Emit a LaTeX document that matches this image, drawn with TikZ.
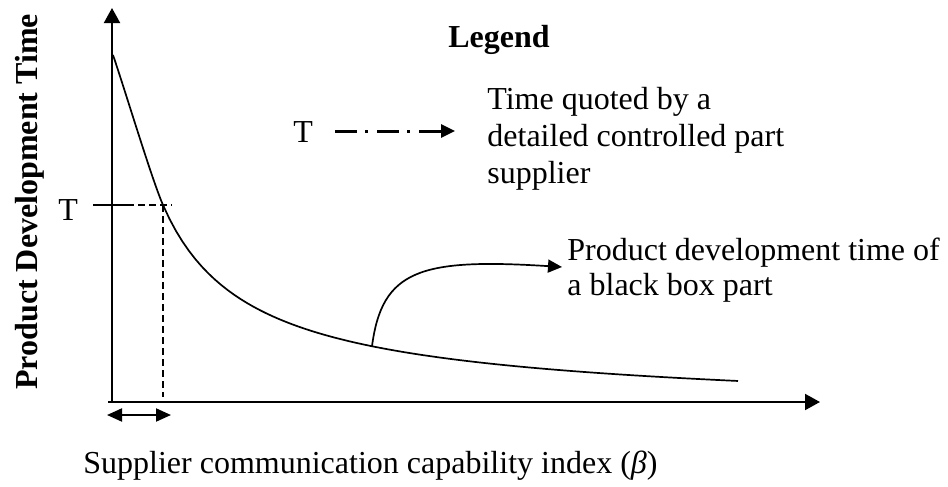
\documentclass[tikz,border=0pt]{standalone}
\usepackage{fontspec}
\setmainfont{Liberation Serif}
\usetikzlibrary{arrows.meta}
\begin{document}
\begin{tikzpicture}[x=0.5pt,y=-0.5pt,
  txt/.style={font=\fontsize{16}{18}\selectfont, inner sep=0pt, anchor=base west},
  btxt/.style={txt, font=\fontsize{16}{18}\selectfont\bfseries},
  axis/.style={line width=1pt, -{Triangle[length=7.5pt,width=8pt]}},
  curve/.style={line width=0.85pt},
  guide/.style={line width=0.65pt, dash pattern=on 3.5pt off 2pt},
  tip/.style={-{Triangle[length=7pt,width=6.5pt]}}
]
\useasboundingbox (0,0) rectangle (948,487);
% coordinates
\coordinate (O) at (112,402);
\coordinate (Ytop) at (112,8);
\coordinate (Xl) at (108,402);
\coordinate (Xr) at (820,402);
\coordinate (Tl) at (93,205);
\coordinate (Tm) at (127,205);
\coordinate (Tr) at (172,205);
\coordinate (Vt) at (163,205);
\coordinate (Vb) at (163,397);
\coordinate (Dl) at (107,415);
\coordinate (Dr) at (171,415);
\coordinate (Ls) at (335,131);
\coordinate (Le) at (455,131);
\coordinate (Ae) at (562,267);
% axes
\draw[axis] (O) -- (Ytop);
\draw[axis] (Xl) -- (Xr);
% main curve
\draw[curve] (113,55) .. controls (125,90) and (152,180) .. (163,205)
  -- plot[domain=163:738, samples=90] (\x, {402 - 169.42/((\x-77)/100) + 0.008*(\x-163)});
\coordinate (As) at (372, {402 - 169.42/((372-77)/100) + 0.008*(372-163)});
% T guide lines
\draw[line width=0.8pt] (Tl) -- (Tm);
\draw[guide] (Tm) -- (Tr);
\draw[guide] (Vt) -- (Vb);
% double arrow
\draw[line width=1pt, {Triangle[length=7.5pt,width=6.5pt]}-{Triangle[length=7.5pt,width=6.5pt]}] (Dl) -- (Dr);
% legend arrow
\draw[line width=1.5pt, dash pattern=on 11pt off 4pt on 1.5pt off 4.5pt, tip] (Ls) -- (Le);
% annotation arrow
\draw[curve, tip] (As) .. controls (382,270) and (420,258) .. (Ae);
% texts
\node[btxt, rotate=90] (ylab) at (38,390) {Product Development Time};
\node[txt] (tlab) at (58,220) {T};
\node[btxt] (leg) at (448,47) {Legend};
\node[txt] (legT) at (293,142) {T};
\node[txt] (q1) at (487,109) {Time quoted by a};
\node[txt] (q2) at (487,146) {detailed controlled part};
\node[txt] (q3) at (487,183) {supplier};
\node[txt] (b1) at (567,260) {Product development time of};
\node[txt] (b2) at (567,295) {a black box part};
\node[txt] (xlab) at (83,473) {Supplier communication capability index ({\itshape β})};
\end{tikzpicture}
\end{document}
